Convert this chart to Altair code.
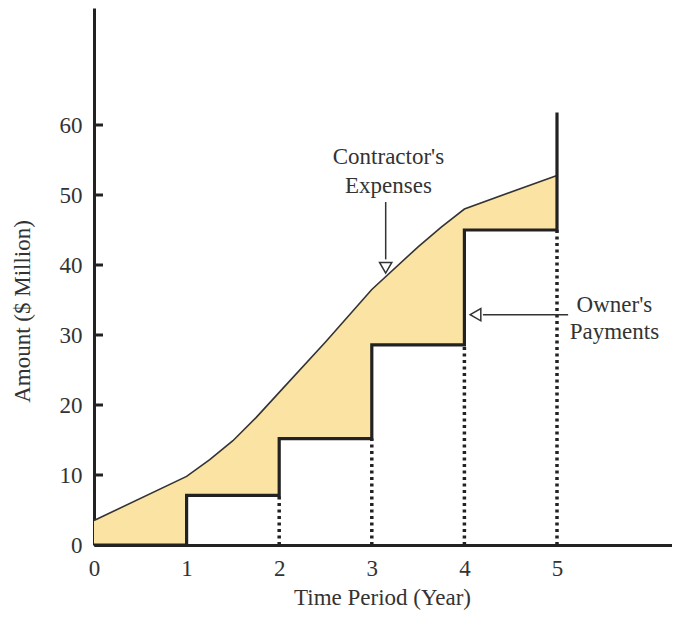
import altair as alt
import pandas as pd

# ---- data ----
expense_years = [0, 1, 1.25, 1.5, 1.75, 2, 2.5, 3, 3.5, 3.75, 4, 5]
expense_values = [3.5, 9.8, 12.2, 14.9, 18.2, 21.8, 29.0, 36.5, 42.6, 45.4, 48.0, 52.8]

payment_years = [1, 2, 3, 4]          # start year of each payment step
payment_values = [7.1, 15.2, 28.6, 45.0]
payment_end_year = 5
payment_top = 61.8

x_ticks = [0, 1, 2, 3, 4, 5]
y_ticks = [0, 10, 20, 30, 40, 50, 60]
y_inner_ticks = [10, 20, 30, 40, 50, 60]

ann_text = ["Contractor's", "Expenses", "Owner's", "Payments"]
ann_x = [3.18, 3.18, 5.62, 5.62]
ann_y = [55.4, 51.3, 34.3, 30.4]

exp_arrow_x = [3.15]
exp_arrow_y = [49.0, 40.8]
exp_head_y = [39.6]
own_arrow_y = [32.9]
own_arrow_x = [5.12, 4.2]
own_head_x = [4.12]

FONT = "Liberation Serif"
FS = 23
INK = "#222222"
TXT = "#333333"
FILL = "#FBE3A4"

W, H = 578, 537
XD = [0, W / 92.6]
YD = [0, H / 7.0]

# ---- tables built from the arrays ----
steps = [(0, 0.0)] + list(zip(payment_years, payment_values))


def level_before(x):
    lv = 0.0
    for s, v in steps:
        if s < x:
            lv = v
    return lv


def level_at(x):
    lv = 0.0
    for s, v in steps:
        if s <= x:
            lv = v
    return lv


area_rows = []
for x, v in zip(expense_years, expense_values):
    if x in payment_years:
        area_rows.append({"x": x, "top": v, "bot": level_before(x)})
        area_rows.append({"x": x, "top": v, "bot": level_at(x)})
    else:
        area_rows.append({"x": x, "top": v, "bot": level_at(x)})
area_df = pd.DataFrame(area_rows)

curve_df = pd.DataFrame({"x": expense_years, "y": expense_values,
                         "i": list(range(len(expense_years)))})

step_rows = [(0, 0.0)]
prev = 0.0
for s, v in zip(payment_years, payment_values):
    step_rows.append((s, prev))
    step_rows.append((s, v))
    prev = v
step_rows.append((payment_end_year, prev))
step_rows.append((payment_end_year, payment_top))
step_df = pd.DataFrame({"x": [r[0] for r in step_rows],
                        "y": [r[1] for r in step_rows],
                        "i": list(range(len(step_rows)))})

dot_x = payment_years[1:] + [payment_end_year]
dot_df = pd.DataFrame({"x": dot_x, "y0": [0] * len(dot_x), "y1": payment_values})

xs = alt.Scale(domain=XD, nice=False, zero=False)
ys = alt.Scale(domain=YD, nice=False, zero=False)

x_axis = alt.Axis(values=x_ticks, format="d", ticks=False, grid=False,
                  domainWidth=3, domainColor=INK,
                  labelFont=FONT, labelFontSize=FS, labelColor=TXT,
                  labelPadding=12, labelFlush=False,
                  title="Time Period (Year)", titleFont=FONT,
                  titleFontSize=FS, titleFontWeight="normal",
                  titleColor=TXT, titleX=288, titleY=52,
                  titleBaseline="middle", titleAlign="center")
y_axis = alt.Axis(values=y_ticks, format="d", ticks=False, grid=False,
                  domainWidth=3, domainColor=INK,
                  labelFont=FONT, labelFontSize=FS, labelColor=TXT,
                  labelPadding=12, labelFlush=False,
                  title="Amount ($ Million)", titleFont=FONT,
                  titleFontSize=FS, titleFontWeight="normal",
                  titleColor=TXT, titleAngle=270, titleX=-72,
                  titleY=303, titleBaseline="middle",
                  titleAlign="center")


def X(f):
    return alt.X(f, scale=xs, axis=x_axis)


def Y(f):
    return alt.Y(f, scale=ys, axis=y_axis)


area = alt.Chart(area_df).mark_area(color=FILL, opacity=1).encode(
    x=X("x:Q"), y=Y("top:Q"), y2="bot:Q",
)

curve = alt.Chart(curve_df).mark_line(color="#333333", strokeWidth=1.6).encode(
    x=X("x:Q"), y=Y("y:Q"), order="i:Q",
)

dots = alt.Chart(dot_df).mark_rule(color=INK, strokeWidth=3.5,
                                   strokeDash=[3, 3.5]).encode(
    x=X("x:Q"), y=Y("y0:Q"), y2="y1:Q",
)

step = alt.Chart(step_df).mark_line(color=INK, strokeWidth=3.2,
                                    strokeJoin="miter").encode(
    x=X("x:Q"), y=Y("y:Q"), order="i:Q",
)

ticks = alt.Chart(pd.DataFrame({"t": y_inner_ticks})).mark_rule(
    color=INK, strokeWidth=3).encode(
    x=alt.value(0), x2=alt.value(9), y=Y("t:Q"),
)

exp_line = alt.Chart(pd.DataFrame({"x": exp_arrow_x * 2, "y": exp_arrow_y})).mark_line(
    color="#333333", strokeWidth=1.5).encode(x=X("x:Q"), y=Y("y:Q"))
exp_head = alt.Chart(pd.DataFrame({"x": exp_arrow_x, "y": exp_head_y})).mark_point(
    shape="triangle-down", filled=True, fill="white", stroke="#333333",
    strokeWidth=1.5, size=150, opacity=1).encode(x=X("x:Q"), y=Y("y:Q"))

own_line = alt.Chart(pd.DataFrame({"x": own_arrow_x, "y": own_arrow_y * 2})).mark_line(
    color="#333333", strokeWidth=1.5).encode(x=X("x:Q"), y=Y("y:Q"))
own_head = alt.Chart(pd.DataFrame({"x": own_head_x, "y": own_arrow_y})).mark_point(
    shape="triangle-left", filled=True, fill="white", stroke="#333333",
    strokeWidth=1.5, size=150, opacity=1).encode(x=X("x:Q"), y=Y("y:Q"))

labels = alt.Chart(pd.DataFrame({"t": ann_text, "x": ann_x, "y": ann_y})).mark_text(
    font=FONT, fontSize=FS, color=TXT, align="center", baseline="middle").encode(
    x=X("x:Q"), y=Y("y:Q"), text="t:N",
)

chart = alt.layer(
    area, curve, dots, step, ticks, exp_line, own_line, exp_head, own_head, labels
).properties(
    width=W, height=H,
    autosize=alt.AutoSizeParams(type="none"),
    padding={"left": 86, "top": 0, "right": 0, "bottom": 66},
    background="white",
).configure_view(stroke=None)

chart.save("out.html", embed_options={"renderer": "svg", "actions": False})
